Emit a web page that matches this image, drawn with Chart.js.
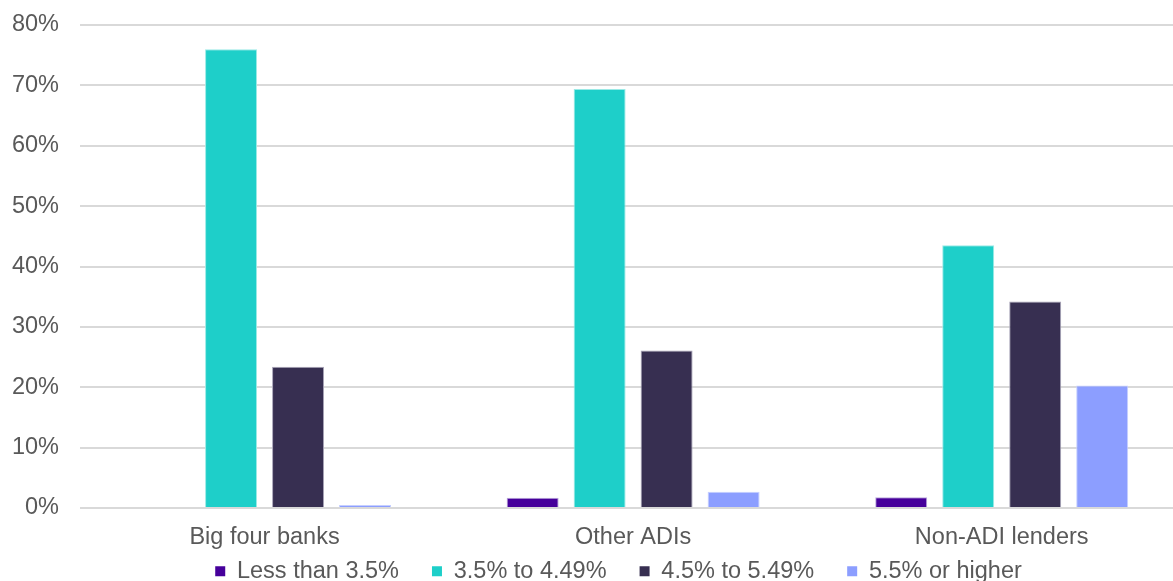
<!DOCTYPE html>
<html>
<head>
<meta charset="utf-8">
<script src="https://cdn.jsdelivr.net/npm/chart.js@4/dist/chart.umd.min.js"></script>
<style>
  html, body { margin: 0; padding: 0; background: #fff; overflow: hidden; }
  #wrap { position: relative; width: 1190px; height: 593px; }
</style>
</head>
<body>
<div id="wrap"><canvas id="rates-chart"></canvas></div>
<script>
// Lender groups and interest rate buckets
const categories = ["Big four banks", "Other ADIs", "Non-ADI lenders"];
const seriesNames = ["Less than 3.5%", "3.5% to 4.49%", "4.5% to 5.49%", "5.5% or higher"];

// Share of loans (%) in each rate bucket
const lessThan35 = [0, 1.7, 1.8];
const from35to449 = [76.0, 69.4, 43.5];
const from45to549 = [23.4, 26.1, 34.2];
const above55 = [0.5, 2.7, 20.3];

const yTicks = [0, 10, 20, 30, 40, 50, 60, 70, 80];

const colors = ["#46009b", "#1ecfc9", "#372f51", "#8c9eff"];
const borders = ["#b9a6dc", "#9beae6", "#a9a5b8", "#c6cfff"];
const textColor = "#595959";
const fontFamily = "'Liberation Sans', Arial, sans-serif";

const values = [lessThan35, from35to449, from45to549, above55];

const ctx = document.getElementById("rates-chart").getContext("2d");

new Chart(ctx, {
  type: "bar",
  data: {
    labels: categories,
    datasets: seriesNames.map((name, i) => ({
      label: name,
      data: values[i],
      backgroundColor: colors[i],
      borderColor: borders[i],
      borderWidth: 1,
      borderSkipped: "bottom",
      categoryPercentage: 0.727,
      barPercentage: 0.776
    }))
  },
  options: {
    responsive: true,
    maintainAspectRatio: false,
    animation: false,
    layout: {
      padding: { top: 25, left: 51, right: 4, bottom: 0 }
    },
    scales: {
      x: {
        grid: { display: false, drawTicks: false },
        border: { display: false },
        ticks: {
          // mirrored so the labels are not clipped to the slim axis box
          mirror: true,
          color: textColor,
          padding: -43.4,
          font: { family: fontFamily, size: 23.5 }
        },
        afterFit: (scale) => { scale.height = 18.5; }
      },
      y: {
        min: 0,
        max: 80,
        border: { display: false },
        grid: { color: "#d9d9d9", lineWidth: 2, drawTicks: false },
        afterBuildTicks: (scale) => {
          scale.ticks = yTicks.map((v) => ({ value: v }));
        },
        ticks: {
          mirror: true,
          crossAlign: "far",
          color: textColor,
          padding: -68.3,
          font: { family: fontFamily, size: 23.5 },
          callback: (v) => v + "%"
        },
        afterFit: (scale) => { scale.width = 29.25; }
      }
    },
    plugins: {
      tooltip: { enabled: false },
      legend: {
        position: "bottom",
        labels: {
          color: textColor,
          boxWidth: 10,
          boxHeight: 10,
          padding: 33,
          font: { family: fontFamily, size: 23.5 },
          generateLabels: (chart) => chart.data.datasets.map((ds, i) => ({
            text: ds.label,
            fillStyle: colors[i],
            strokeStyle: colors[i],
            lineWidth: 0,
            fontColor: textColor,
            datasetIndex: i
          }))
        }
      }
    }
  }
});
</script>
</body>
</html>
